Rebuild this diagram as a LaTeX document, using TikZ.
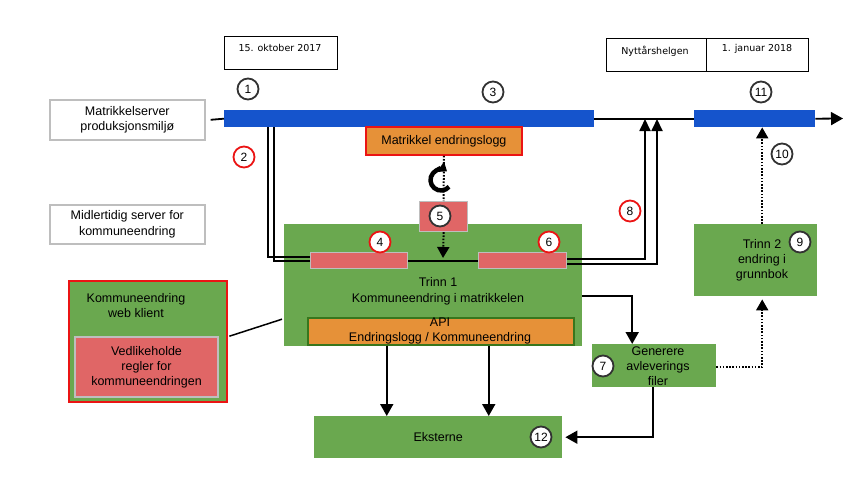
\documentclass[tikz,border=0pt]{standalone}
\usepackage{fontspec}
\setmainfont{Liberation Sans}
\newfontfamily\datefont{DejaVu Sans}
\usetikzlibrary{arrows.meta}
\definecolor{barblue}{RGB}{21,84,204}
\definecolor{boxgreen}{RGB}{106,168,79}
\definecolor{boxpink}{RGB}{224,102,102}
\definecolor{boxorange}{RGB}{230,145,56}
\definecolor{boxred}{RGB}{235,20,20}
\definecolor{boxgray}{RGB}{190,190,190}
\definecolor{darkgreen}{RGB}{56,118,29}
\definecolor{circgray}{RGB}{50,50,50}
\begin{document}
\begin{tikzpicture}[x=1pt,y=-1pt,
  lbl/.style={font=\fontsize{12.5}{15}\selectfont, align=center, inner sep=0pt},
  rbox/.style={rectangle, inner sep=0pt, anchor=north west},
  whitebox/.style={rbox, draw=boxgray, line width=1.6pt, fill=white, font=\fontsize{12.5}{15.5}\selectfont, align=center},
  datebox/.style={rbox, draw=black, line width=0.9pt, fill=white},
  datetext/.style={font=\datefont\fontsize{9.5}{11}\selectfont, inner sep=0pt},
  bluebar/.style={rbox, fill=barblue},
  greenbox/.style={rbox, fill=boxgreen},
  pinkbar/.style={rbox, fill=boxpink, draw=boxgray, line width=1.2pt},
  num/.style={circle, draw=circgray, fill=white, line width=1.8pt, minimum size=21pt, inner sep=0pt, font=\fontsize{12}{12}\selectfont},
  rnum/.style={num, draw=boxred},
  conn/.style={draw=black, line width=1.8pt},
  arr/.style={conn, -{Triangle[width=13pt,length=12pt]}},
  sarr/.style={conn, -{Triangle[width=11pt,length=12pt]}},
  dotl/.style={draw=black, line width=2pt, dash pattern=on 1.6pt off 1.6pt},
  dotarr/.style={dotl, -{Triangle[width=12pt,length=11pt]}},
]
\useasboundingbox (0,0) rectangle (861,495);
\fill[white] (0,0) rectangle (861,495);

% date boxes
\node[datebox, minimum width=113pt, minimum height=33pt] (d1) at (224,36) {};
\node[datetext] (d1t) at (280,48) {15. oktober 2017};
\node[datebox, minimum width=100pt, minimum height=33pt] (d2) at (606,38) {};
\node[datetext] (d2t) at (655,51) {Nyttårshelgen};
\node[datebox, minimum width=102pt, minimum height=33pt] (d3) at (706,38) {};
\node[datetext] (d3t) at (757,49) {1. januar 2018};

% server boxes
\node[whitebox, minimum width=155pt, minimum height=40pt] (ms) at (49,99) {Matrikkelserver\\produksjonsmiljø};
\node[whitebox, minimum width=155pt, minimum height=39pt] (mid) at (49,204) {Midlertidig server for\\kommuneendring};

% blue bars
\node[bluebar, minimum width=370pt, minimum height=17pt] (bar1) at (224,110) {};
\node[bluebar, minimum width=121pt, minimum height=17pt] (bar2) at (694,110) {};
\coordinate (tend) at (843,118.5);
\draw[conn] ([xshift=5pt]ms.east) -- (bar1.west);
\draw[conn] (bar1.east) -- (bar2.west);
\draw[arr] (bar2.east) -- (tend);

% endringslogg
\node[rbox, fill=boxorange, draw=boxred, line width=1.8pt, minimum width=156pt, minimum height=28pt, lbl] (elog) at (365,126) {Matrikkel endringslogg};

% Trinn 1
\node[greenbox, minimum width=298pt, minimum height=122pt] (t1) at (284,224) {};
\node[lbl, font=\fontsize{12.5}{16.5}\selectfont] (t1t) at (438,291.5) {Trinn 1\\Kommuneendring i matrikkelen};
\node[rbox, fill=boxorange, draw=darkgreen, line width=1.5pt, minimum width=266pt, minimum height=27pt] (api) at (307,317) {};
\node[lbl] (apit) at (440,330.5) {API\\Endringslogg / Kommuneendring};

% box 5
\node[pinkbar, minimum width=48pt, minimum height=30pt] (p5) at (419,201) {};
\draw[dotl] (elog.south) -- (p5.north);
\draw[line width=4.5pt, -{Triangle[width=12pt,length=8pt]}] (441,180) ++(40:10.5) arc[start angle=40, end angle=305, radius=10.5];

% pink bars
\node[pinkbar, minimum width=97pt, minimum height=16pt] (b4) at (310,252) {};
\node[pinkbar, minimum width=88pt, minimum height=16pt] (b6) at (478,252) {};
\draw[conn] (b4.east) -- (b6.west);
\coordinate (c5) at (443,258);
\draw[dotarr] (p5.south) -- (c5);

% double lines left
\draw[conn] ([xshift=44pt]bar1.south west) |- ([yshift=4pt]b4.west);
\draw[conn] ([xshift=50pt]bar1.south west) |- (b4.west);

% lines right up to timeline
\coordinate (j1) at (645,119);
\coordinate (j2) at (657,119);
\draw[sarr] ([yshift=2pt]b6.east) -| (j1);
\draw[sarr] ([yshift=-3pt]b6.east) -| (j2);

% web klient
\node[greenbox, draw=boxred, line width=2.4pt, minimum width=158pt, minimum height=121pt] (wk) at (68,280) {};
\node[lbl] (wkt) at (136,305.5) {Kommuneendring\\web klient};
\node[pinkbar, draw=boxgray, line width=2pt, minimum width=143pt, minimum height=60pt, lbl] (vr) at (74,336) {Vedlikeholde\\regler for\\kommuneendringen};
\draw[conn, line width=1.5pt] ([yshift=5.5pt,xshift=1pt]wk.east) -- ([yshift=-34pt,xshift=-2pt]t1.west);

% Eksterne
\node[greenbox, minimum width=248pt, minimum height=42pt, lbl] (eks) at (314,416) {Eksterne};
\draw[arr] ([xshift=-54pt]api.south) -- ([xshift=-54pt]api.south |- eks.north);
\draw[arr] ([xshift=48pt]api.south) -- ([xshift=48pt]api.south |- eks.north);

% Generere
\node[greenbox, minimum width=124pt, minimum height=43pt] (gen) at (592,344) {};
\node[lbl] (gent) at (658,366) {Generere\\avleverings\\filer};
\draw[arr] ([yshift=-11pt]t1.east) -| ([xshift=-22pt]gen.north);
\draw[arr, shorten >=3pt] ([xshift=-1pt]gen.south) |- (eks.east);

% Trinn 2
\node[greenbox, minimum width=123pt, minimum height=72pt] (t2) at (694,224) {};
\node[lbl] (t2t) at (762,260) {Trinn 2\\endring i\\grunnbok};
\draw[dotarr, shorten >=3pt] ([yshift=-1.5pt]gen.east) -| ([xshift=6.5pt]t2.south);
\draw[dotarr] ([xshift=6.5pt]t2.north) -- ([xshift=7.5pt]bar2.south);

% numbers
\node[num] (n1) at (248,89) {1};
\node[rnum] (n2) at (244,157) {2};
\node[num] (n3) at (493,92) {3};
\node[rnum] (n4) at (380,242) {4};
\node[num] (n5) at (440,216) {5};
\node[rnum] (n6) at (549,242) {6};
\node[num] (n7) at (603,366) {7};
\node[rnum] (n8) at (630,211) {8};
\node[num] (n9) at (800,242) {9};
\node[num] (n10) at (782,154) {10};
\node[num] (n11) at (761,92) {11};
\node[num] (n12) at (541,437) {12};
\end{tikzpicture}
\end{document}
